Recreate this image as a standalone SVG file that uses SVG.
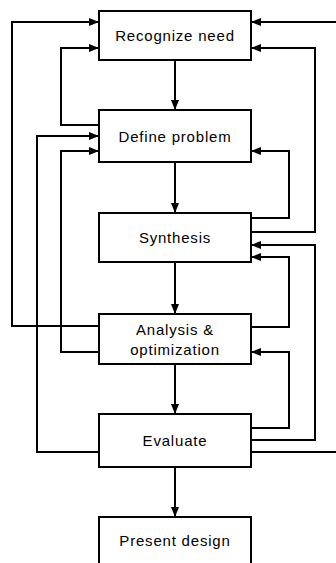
<svg xmlns="http://www.w3.org/2000/svg" width="336" height="563" viewBox="0 0 336 563">
<style>
.box{fill:#fff;stroke:#000;stroke-width:2}
.lbl{font-family:"Liberation Sans",Arial,sans-serif;font-size:15px;letter-spacing:0.8px;text-anchor:middle;fill:#000}
.c{fill:none;stroke:#000;stroke-width:2;marker-end:url(#ah)}
</style>
<defs>
<marker id="ah" markerUnits="userSpaceOnUse" markerWidth="10" markerHeight="8" refX="10" refY="4" orient="auto">
<path d="M0,0 L10,4 L0,8 z" fill="#000"/>
</marker>
</defs>
<rect width="336" height="563" fill="#fff"/>
<g id="connectors">
<path class="c" d="M175,60 V110"/>
<path class="c" d="M175,162 V213"/>
<path class="c" d="M175,262 V314"/>
<path class="c" d="M175,364 V414"/>
<path class="c" d="M175,467 V517"/>
<path class="c" d="M99,326 H12 V22 H99"/>
<path class="c" d="M99,125 H61 V48 H99"/>
<path class="c" d="M99,452 H37 V136 H99"/>
<path class="c" d="M99,352 H61 V151 H99"/>
<path class="c" d="M251,452 H345 V22 H251"/>
<path class="c" d="M251,232 H315 V48 H251"/>
<path class="c" d="M251,218 H289 V151 H251"/>
<path class="c" d="M251,440 H315 V245 H251"/>
<path class="c" d="M251,327 H289 V257 H251"/>
<path class="c" d="M251,428 H289 V352 H251"/>
</g>
<g id="recognize">
<rect class="box" x="99" y="11" width="152" height="49"/>
<text class="lbl" x="175" y="41">Recognize need</text>
</g>
<g id="define">
<rect class="box" x="99" y="110" width="152" height="52"/>
<text class="lbl" x="175" y="141.5">Define problem</text>
</g>
<g id="synthesis">
<rect class="box" x="99" y="213" width="152" height="49"/>
<text class="lbl" x="175" y="243">Synthesis</text>
</g>
<g id="analysis">
<rect class="box" x="99" y="314" width="152" height="50"/>
<text class="lbl" x="175" y="335">Analysis &amp;</text>
<text class="lbl" x="175" y="355">optimization</text>
</g>
<g id="evaluate">
<rect class="box" x="99" y="414" width="152" height="53"/>
<text class="lbl" x="175" y="445.5">Evaluate</text>
</g>
<g id="present">
<rect class="box" x="99" y="517" width="152" height="50"/>
<text class="lbl" x="175" y="546">Present design</text>
</g>
</svg>
